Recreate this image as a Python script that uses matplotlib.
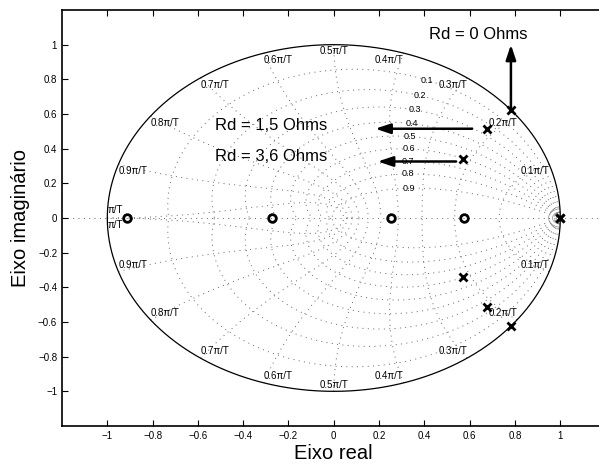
import numpy as np
import matplotlib
matplotlib.use("Agg")
import matplotlib.pyplot as plt

plt.rcParams['font.family'] = ['Liberation Sans', 'DejaVu Sans']

# pole / zero locations in the z-plane
zeros_re = [-0.915, -0.273, 0.253, 0.573]
poles_re = [1.0, 0.782, 0.675, 0.572]
poles_im = [0.0, 0.624, 0.515, 0.340]

# zgrid settings
damping = [0.1, 0.2, 0.3, 0.4, 0.5, 0.6, 0.7, 0.8, 0.9]
wn_frac = [0.1, 0.2, 0.3, 0.4, 0.5, 0.6, 0.7, 0.8, 0.9, 1.0]
wn_small = [0.018, 0.035, 0.053]

ticks = [-1, -0.8, -0.6, -0.4, -0.2, 0, 0.2, 0.4, 0.6, 0.8, 1]
tick_labels = ['\u22121', '\u22120.8', '\u22120.6', '\u22120.4', '\u22120.2', '0',
               '0.2', '0.4', '0.6', '0.8', '1']

fig = plt.figure(figsize=(5.99, 4.66), dpi=100)
ax = fig.add_axes([62 / 599, 40 / 466, 543.6 / 599, 416 / 466])

grid_kw = dict(color='0.4', lw=0.7, linestyle=(0, (1, 4.5)), zorder=1)

# constant damping curves
for z in damping:
    th = np.linspace(0, np.pi, 200)
    r = np.exp(-th * z / np.sqrt(1 - z ** 2))
    ax.plot(r * np.cos(th), r * np.sin(th), **grid_kw)
    ax.plot(r * np.cos(th), -r * np.sin(th), **grid_kw)
    w = 0.35 * np.pi
    p = np.exp(-z * w + 1j * w * np.sqrt(1 - z ** 2))
    ax.text(p.real, p.imag, f'{z:g}', fontsize=6.5, ha='center', va='center')

# constant natural frequency curves
zz = np.linspace(0, 1, 200)
for f in wn_frac:
    w = f * np.pi
    c = np.exp(-zz * w + 1j * w * np.sqrt(1 - zz ** 2))
    ax.plot(c.real, c.imag, **grid_kw)
    ax.plot(c.real, -c.imag, **grid_kw)
    lab = f'{f:g}\u03c0/T' if f < 1 else '\u03c0/T'
    x0, y0 = np.cos(w), np.sin(w)
    if f < 0.5:
        ha = 'right'
    elif f > 0.5:
        ha = 'left'
    else:
        ha = 'center'
    if f == 1:
        ax.text(x0, 0.045, lab, fontsize=7, ha='left', va='center')
        ax.text(x0, -0.04, lab, fontsize=7, ha='left', va='center')
    else:
        ax.text(x0, y0 - 0.01, lab, fontsize=7, ha=ha, va='top')
        ax.text(x0, -y0 + 0.01, lab, fontsize=7, ha=ha, va='bottom')

for w in wn_small:
    c = np.exp(-zz * w + 1j * w * np.sqrt(1 - zz ** 2))
    ax.plot(c.real, c.imag, color='0.55', lw=0.5, zorder=1)
    ax.plot(c.real, -c.imag, color='0.55', lw=0.5, zorder=1)

ax.axhline(0, **grid_kw)

# unit circle
t = np.linspace(0, 2 * np.pi, 400)
ax.plot(np.cos(t), np.sin(t), color='k', lw=0.9, zorder=2)

# zeros and poles (conjugate pairs)
ax.plot(zeros_re, np.zeros(len(zeros_re)), 'o', ms=5.5, mew=2, mfc='none',
        mec='k', zorder=4)
ax.plot(poles_re, poles_im, 'x', ms=5.5, mew=2, color='k', zorder=4)
ax.plot(poles_re, -np.array(poles_im), 'x', ms=5.5, mew=2, color='k', zorder=4)

arrow_kw = dict(arrowstyle='-|>,head_length=0.9,head_width=0.3', lw=1.8,
                color='k', shrinkA=0, shrinkB=0, mutation_scale=10)
ax.annotate('', xy=(0.782, 1.0), xytext=(0.782, 0.624), arrowprops=arrow_kw)
ax.annotate('', xy=(0.183, 0.515), xytext=(0.611, 0.515), arrowprops=arrow_kw)
ax.annotate('', xy=(0.194, 0.326), xytext=(0.540, 0.326), arrowprops=arrow_kw)

ax.text(0.419, 1.06, 'Rd = 0 Ohms', fontsize=12, ha='left', va='center')
ax.text(-0.523, 0.532, 'Rd = 1,5 Ohms', fontsize=12, ha='left', va='center')
ax.text(-0.523, 0.355, 'Rd = 3,6 Ohms', fontsize=12, ha='left', va='center')

ax.set_xlim(-1.2, 1.2)
ax.set_ylim(-1.2, 1.2)
ax.set_xticks(ticks)
ax.set_xticklabels(tick_labels)
ax.set_yticks(ticks)
ax.set_yticklabels(tick_labels)
ax.tick_params(direction='in', top=True, right=True, labelsize=7, length=4)
for s in ax.spines.values():
    s.set_linewidth(1.2)

ax.set_xlabel('Eixo real', fontsize=14.5, labelpad=2)
ax.set_ylabel('Eixo imagin\u00e1rio', fontsize=14.5, labelpad=6)

fig.savefig('out.png', dpi=100)
